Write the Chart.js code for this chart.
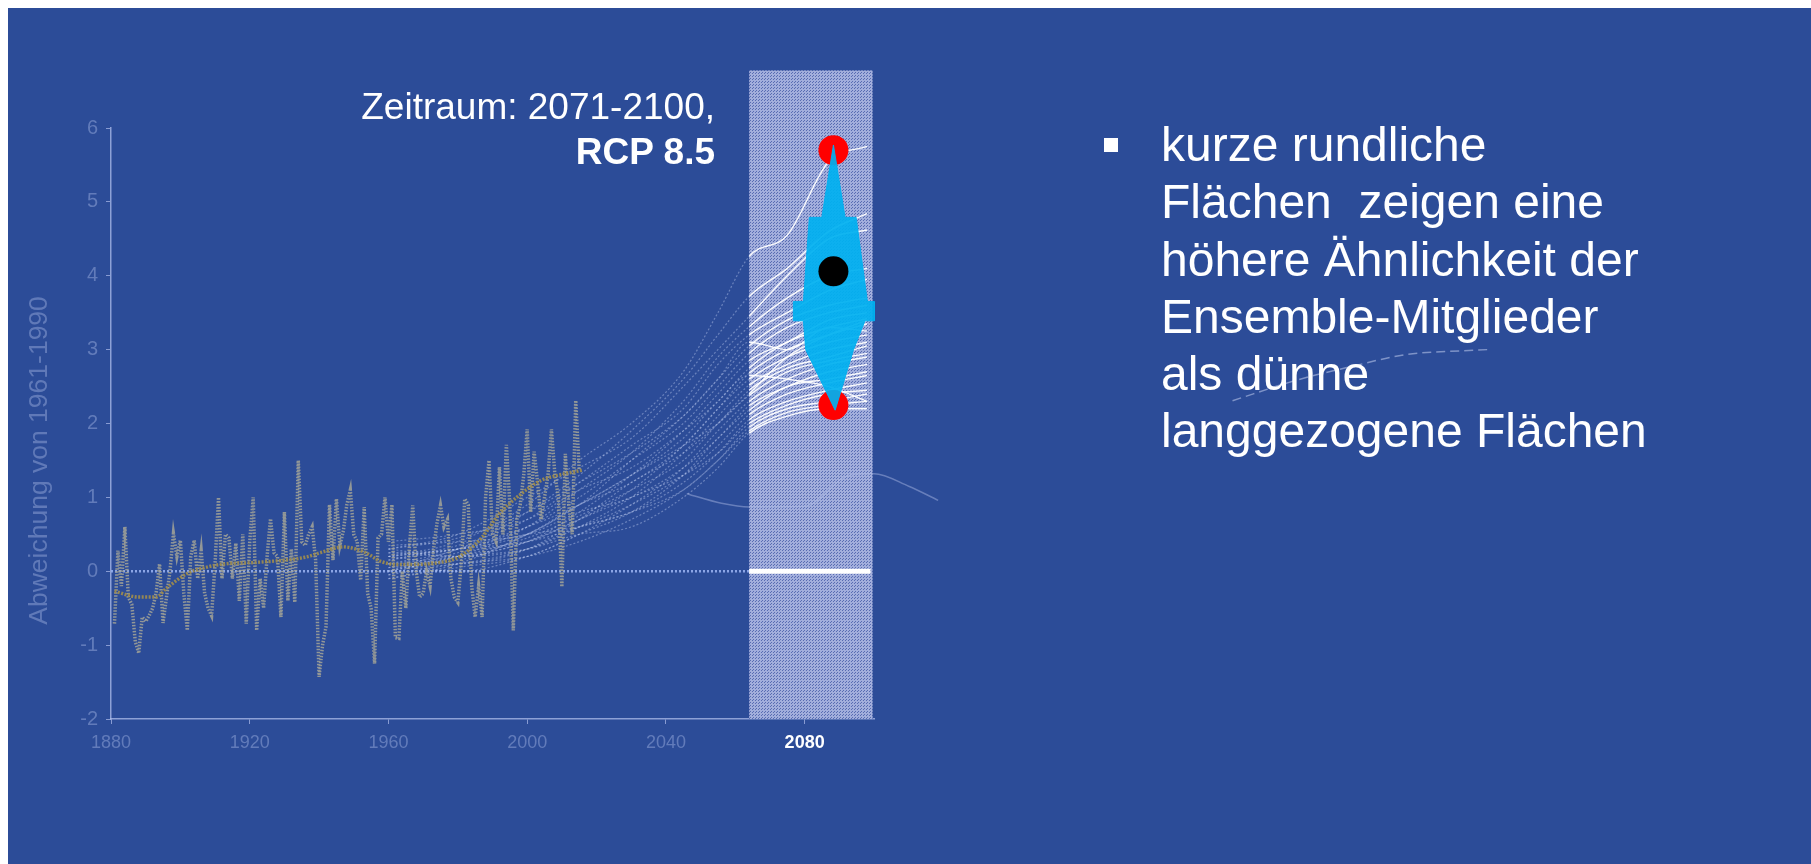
<!DOCTYPE html>
<html>
<head>
<meta charset="utf-8">
<script src="https://cdn.jsdelivr.net/npm/chart.js@4.4.1/dist/chart.umd.min.js"></script>
<style>
html, body { margin: 0; padding: 0; width: 1811px; height: 864px; overflow: hidden; background: #ffffff; }
#slide { position: absolute; left: 8px; top: 8px; width: 1803px; height: 856px; background: #2c4c98; }
#chart { position: absolute; left: 0; top: 0; }
.txt { position: absolute; color: #ffffff; font-family: "Liberation Sans", Arial, sans-serif; white-space: pre; }
#period { right: 1096px; top: 84px; font-size: 37px; line-height: 45px; text-align: right; }
#bullet { position: absolute; left: 1104px; top: 138px; width: 14px; height: 14px; background: #ffffff; }
#note { left: 1161px; top: 116px; font-size: 48px; line-height: 57.3px; }
</style>
</head>
<body>
<div id="slide"></div>
<canvas id="chart" width="1811" height="864"></canvas>
<div class="txt" id="period">Zeitraum: 2071-2100,
<b>RCP 8.5</b></div>
<div id="bullet"></div>
<div class="txt" id="note">kurze rundliche
Flächen  zeigen eine
höhere Ähnlichkeit der
Ensemble-Mitglieder
als dünne
langgezogene Flächen</div>
<script>
// Abweichung von 1961-1990 (°C), jaehrlich ab 1881
var obsFirstYear = 1881;
var obsValues = [
  -0.71, 0.28, -0.2, 0.6, -0.35, -0.45, -0.95, -1.11, -0.62, -0.68,
  -0.6, -0.5, -0.3, 0.1, -0.7, -0.35, 0.0, 0.51, 0.2, 0.42,
  -0.3, -0.8, 0.2, 0.42, -0.1, 0.28, -0.3, -0.5, -0.6, 0.1,
  1.0, -0.1, 0.5, 0.45, -0.1, 0.38, -0.4, 0.5, -0.71, 0.4,
  1.0, -0.8, -0.1, -0.5, 0.2, 0.71, 0.25, 0.2, -0.62, 0.8,
  -0.4, 0.3, -0.42, 1.5, 0.4, 0.35, 0.5, 0.6, 0.15, -1.43,
  -1.0, -0.75, 0.9, 0.15, 0.98, 0.35, 0.55, 0.9, 1.1, 0.5,
  0.4, -0.12, 0.87, -0.3, -0.5, -1.25, 0.45, 0.5, 1.0, 0.4,
  0.9, -0.9, -0.91, 0.0, -0.5, 0.3, 0.89, 0.0, -0.35, -0.3,
  0.0, -0.2, 0.3, 0.65, 0.89, 0.6, 0.7, -0.1, -0.35, -0.42,
  0.1, 0.98, 0.9, -0.2, -0.62, -0.2, -0.62, 1.0, 1.5, 0.5,
  0.4, 1.41, 0.5, 1.71, 0.9, -0.8, 0.7, 0.9, 1.3, 1.92,
  0.8, 1.62, 1.2, 0.7, 1.0, 1.3, 1.92, 1.3, 1.0, -0.21,
  1.59, 0.9, 0.5, 2.31, 1.37
];

// geglaettete Kurve
var smoothYears = [1881, 1888, 1893, 1896, 1902, 1908, 1913, 1922, 1936, 1941, 1947, 1953, 1958, 1963, 1978, 1983, 1987, 1992, 1997, 2004, 2009, 2016];
var smoothValues = [-0.27, -0.35, -0.35, -0.23, -0.03, 0.06, 0.1, 0.12, 0.19, 0.26, 0.33, 0.26, 0.13, 0.09, 0.15, 0.28, 0.46, 0.78, 1.0, 1.23, 1.3, 1.37];

// Ensemble RCP 8.5
var ensYears = [1960, 1980, 2000, 2015, 2030, 2045, 2055, 2064, 2075, 2087, 2098];
var ensMembers = [
  [0.2, 0.4, 0.9, 1.5, 2.0, 2.7, 3.5, 4.26, 4.55, 5.55, 5.75],
  [0.1, 0.3, 0.8, 1.3, 1.9, 2.6, 3.2, 3.72, 4.1, 4.6, 4.84],
  [0.3, 0.5, 1.0, 1.4, 1.8, 2.5, 3.0, 3.45, 4.0, 4.5, 4.62],
  [0.0, 0.2, 0.6, 1.1, 1.6, 2.3, 2.9, 3.31, 3.7, 4.0, 4.1],
  [0.15, 0.35, 0.7, 1.2, 1.7, 2.2, 2.8, 3.2, 3.5, 3.8, 3.95],
  [-0.1, 0.1, 0.5, 0.9, 1.5, 2.1, 2.6, 3.05, 3.4, 3.6, 3.7],
  [0.25, 0.3, 0.6, 1.0, 1.5, 2.0, 2.5, 2.95, 3.3, 3.5, 3.6],
  [0.05, 0.2, 0.4, 0.8, 1.3, 1.9, 2.4, 2.85, 3.1, 3.4, 3.5],
  [0.4, 0.5, 0.7, 1.1, 1.4, 1.9, 2.3, 2.75, 3.1, 3.3, 3.42],
  [0.1, 0.15, 0.5, 0.9, 1.2, 1.7, 2.2, 2.68, 3.0, 3.2, 3.35],
  [-0.05, 0.25, 0.4, 0.7, 1.1, 1.7, 2.2, 2.6, 2.9, 3.1, 3.2],
  [0.3, 0.2, 0.3, 0.6, 1.0, 1.6, 2.1, 2.52, 2.8, 3.0, 3.1],
  [0.2, 0.1, 0.3, 0.7, 1.2, 1.6, 2.0, 2.45, 2.75, 2.9, 3.05],
  [0.0, 0.3, 0.6, 0.9, 1.3, 1.7, 2.0, 2.38, 2.7, 2.85, 2.95],
  [0.1, 0.0, 0.2, 0.5, 0.9, 1.4, 1.9, 2.3, 2.6, 2.8, 2.9],
  [0.35, 0.4, 0.5, 0.8, 1.0, 1.4, 1.8, 2.24, 2.5, 2.7, 2.8],
  [-0.1, 0.05, 0.2, 0.5, 0.8, 1.3, 1.8, 2.18, 2.5, 2.6, 2.7],
  [0.2, 0.3, 0.4, 0.6, 0.9, 1.3, 1.7, 2.12, 2.4, 2.55, 2.65],
  [0.05, 0.1, 0.3, 0.6, 0.8, 1.2, 1.6, 2.05, 2.3, 2.45, 2.55],
  [0.25, 0.2, 0.4, 0.7, 1.0, 1.3, 1.6, 2.0, 2.25, 2.4, 2.45],
  [-0.05, 0.1, 0.2, 0.4, 0.7, 1.1, 1.5, 1.95, 2.2, 2.3, 2.4],
  [0.15, 0.3, 0.5, 0.6, 0.8, 1.1, 1.5, 1.9, 2.15, 2.25, 2.3],
  [0.1, 0.2, 0.3, 0.5, 0.6, 1.0, 1.4, 1.87, 2.1, 2.2, 2.2],
  [0.3, 0.45, 0.8, 1.2, 1.6, 2.1, 2.6, 3.1, 3.0, 3.3, 3.25],
  [0.0, 0.2, 0.45, 0.75, 1.1, 1.5, 2.0, 2.4, 2.9, 3.2, 3.4],
  [0.2, 0.3, 0.5, 0.9, 1.3, 1.8, 2.3, 2.65, 2.6, 2.5, 2.3]
];

// lose Linien ausserhalb (absteigend, damit sie ganz gezeichnet werden)
var strayYears = [2118.5, 2110, 2100, 2093, 2080, 2064, 2056, 2046];
var strayValues = [0.96, 1.15, 1.32, 1.3, 0.88, 0.87, 0.92, 1.05];
var stray2Years = [2276.8, 2253.1, 2237.5, 2222.1, 2202.8];
var stray2Values = [3.0, 2.93, 2.77, 2.59, 2.3];

// Zeitraum 2071-2100 Markierung
var shadeYears = [2064, 2099.6];
var shadeValues = [-2, 6.78];
var zeroDotYears = [1880, 2064];
var zeroSolidYears = [2064, 2099];
var markerYear = 2088.3;
var redValues = [5.7, 2.25];
var blackValues = [4.06];
var violinOffsets = [0, 3.37, 6.55, 9.8, 11.8, 11.8, 9.1, 5.8, 0.5, -8.0, -8.65, -11.55, -11.55, -8.65, -6.95, -3.35, 0];
var violinValues = [5.77, 4.79, 4.79, 3.65, 3.65, 3.39, 3.39, 3.0, 2.18, 3.0, 3.39, 3.39, 3.65, 3.65, 4.79, 4.79, 5.77];

var xTickYears = [1880, 1920, 1960, 2000, 2040, 2080];
var yTitle = 'Abweichung von 1961-1990';

var fontFam = '"Liberation Sans", Arial, sans-serif';
var faint = 'rgba(165,182,228,0.45)';

function pts(xs, ys) {
  var out = [];
  for (var i = 0; i < xs.length; i++) out.push({ x: xs[i], y: ys[i] });
  return out;
}

var obsPoints = [];
for (var i = 0; i < obsValues.length; i++) obsPoints.push({ x: obsFirstYear + i, y: obsValues[i] });

var violinPoints = [];
for (var j = 0; j < violinOffsets.length; j++) violinPoints.push({ x: markerYear + violinOffsets[j], y: violinValues[j] });

var datasets = [];

ensMembers.forEach(function (m) {
  datasets.push({
    data: pts(ensYears, m),
    borderColor: 'rgba(200,212,245,0.4)',
    borderWidth: 1.2,
    pointRadius: 0,
    cubicInterpolationMode: 'monotone',
    order: 20,
    segment: {
      borderColor: function (c) { return c.p0.parsed.x >= shadeYears[0] ? 'rgba(255,255,255,0.95)' : 'rgba(200,212,245,0.4)'; },
      borderDash: function (c) { return c.p0.parsed.x >= shadeYears[0] ? [] : [2, 2]; },
      borderWidth: function (c) { return c.p0.parsed.x >= shadeYears[0] ? 1.4 : 1.2; }
    }
  });
});

datasets.push({
  data: pts(strayYears, strayValues),
  borderColor: 'rgba(175,188,230,0.45)', borderWidth: 1.5, pointRadius: 0,
  cubicInterpolationMode: 'monotone', clip: false, order: 21
});
datasets.push({
  data: pts(stray2Years, stray2Values),
  borderColor: 'rgba(195,205,238,0.55)', borderWidth: 1.5, borderDash: [9, 5], pointRadius: 0,
  cubicInterpolationMode: 'monotone', clip: false, order: 21
});
datasets.push({
  data: [{ x: zeroDotYears[0], y: 0 }, { x: zeroDotYears[1], y: 0 }],
  borderColor: 'rgba(150,175,238,0.9)', borderWidth: 2.5, borderDash: [2, 2], pointRadius: 0, order: 22
});
datasets.push({
  data: [{ x: zeroSolidYears[0], y: 0 }, { x: zeroSolidYears[1], y: 0 }],
  borderColor: '#ffffff', borderWidth: 5, pointRadius: 0, order: 19
});
datasets.push({
  data: obsPoints,
  borderColor: 'rgba(165,164,150,0.85)', borderWidth: 3.5, borderDash: [1.5, 1.5],
  pointRadius: 0, tension: 0, order: 15
});
datasets.push({
  data: pts(smoothYears, smoothValues),
  borderColor: 'rgba(155,138,80,0.95)', borderWidth: 3.5, borderDash: [2, 1.5],
  pointRadius: 0, cubicInterpolationMode: 'monotone', order: 14
});
datasets.push({
  type: 'scatter',
  data: redValues.map(function (v) { return { x: markerYear, y: v }; }),
  backgroundColor: '#ff0000', borderWidth: 0, pointRadius: 15, clip: false, order: 10
});
datasets.push({
  data: violinPoints,
  fill: 'shape',
  backgroundColor: 'rgba(0,176,240,0.93)', borderColor: 'rgba(0,176,240,0.93)', borderWidth: 1,
  pointRadius: 0, tension: 0, clip: false, order: 8
});
datasets.push({
  type: 'scatter',
  data: blackValues.map(function (v) { return { x: markerYear, y: v }; }),
  backgroundColor: '#000000', borderWidth: 0, pointRadius: 15, clip: false, order: 6
});

var stipple = (function () {
  var c = document.createElement('canvas');
  c.width = 3; c.height = 3;
  var g = c.getContext('2d');
  g.fillStyle = 'rgb(162,174,220)';
  g.fillRect(0, 0, 3, 3);
  g.fillStyle = 'rgb(88,108,178)';
  g.fillRect(0, 0, 1, 1);
  g.fillRect(2, 1, 1, 1);
  return g.createPattern(c, 'repeat');
})();

var shadePlugin = {
  id: 'shade',
  beforeDatasetsDraw: function (chart) {
    var x = chart.scales.x, y = chart.scales.y, ctx = chart.ctx;
    var x0 = x.getPixelForValue(shadeYears[0]), x1 = x.getPixelForValue(shadeYears[1]);
    var y0 = y.getPixelForValue(shadeValues[1]), y1 = y.getPixelForValue(shadeValues[0]);
    ctx.save();
    ctx.fillStyle = stipple;
    ctx.fillRect(x0, y0, x1 - x0, y1 - y0);
    ctx.restore();
  },
  afterDraw: function (chart) {
    var y = chart.scales.y, ctx = chart.ctx;
    ctx.save();
    ctx.translate(40, y.getPixelForValue(1.5));
    ctx.rotate(-Math.PI / 2);
    ctx.font = '26.5px ' + fontFam;
    ctx.fillStyle = 'rgba(160,178,225,0.45)';
    ctx.textAlign = 'center';
    ctx.textBaseline = 'middle';
    ctx.fillText(yTitle, 0, 0);
    ctx.restore();
  }
};

new Chart(document.getElementById('chart').getContext('2d'), {
  type: 'line',
  data: { datasets: datasets },
  plugins: [shadePlugin],
  options: {
    responsive: false,
    devicePixelRatio: 1,
    animation: false,
    events: [],
    layout: { padding: { left: 0, top: 128, right: 937, bottom: 105 } },
    plugins: { legend: { display: false }, tooltip: { enabled: false } },
    scales: {
      x: {
        type: 'linear', min: 1880, max: 2100,
        afterFit: function (s) { s.height = 40; },
        afterBuildTicks: function (s) { s.ticks = xTickYears.map(function (v) { return { value: v }; }); },
        border: { display: true, color: 'rgba(175,190,235,0.75)', width: 1.5, dash: [2, 2] },
        grid: { display: true, drawOnChartArea: false, drawTicks: true, tickLength: 5, color: 'rgba(175,190,235,0.7)' },
        ticks: {
          autoSkip: false, maxRotation: 0, padding: 8,
          callback: function (v) { return String(v); },
          color: function (c) { return c.tick && c.tick.value === 2080 ? '#ffffff' : faint; },
          font: function (c) { return c.tick && c.tick.value === 2080 ? { family: fontFam, size: 18, weight: 'bold' } : { family: fontFam, size: 18 }; }
        }
      },
      y: {
        min: -2, max: 6,
        afterFit: function (s) { s.width = 111; },
        border: { display: true, color: 'rgba(175,190,235,0.75)', width: 1.5, dash: [2, 2] },
        grid: { display: true, drawOnChartArea: false, drawTicks: true, tickLength: 5, color: 'rgba(175,190,235,0.7)' },
        ticks: { stepSize: 1, padding: 8, color: faint, font: { family: fontFam, size: 20 } }
      }
    }
  }
});
</script>
</body>
</html>
